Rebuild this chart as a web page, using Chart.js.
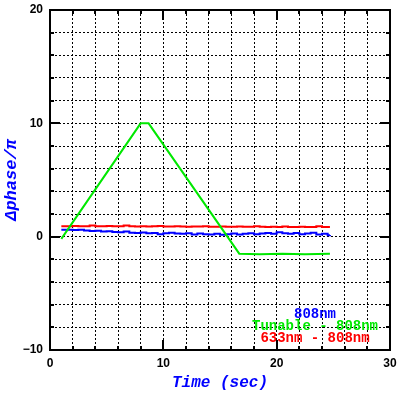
<!DOCTYPE html>
<html>
<head>
<meta charset="utf-8">
<script src="https://cdn.jsdelivr.net/npm/chart.js@4.4.0/dist/chart.umd.min.js"></script>
<style>
  html, body { margin: 0; padding: 0; background: #fff; }
  #wrap { width: 399px; height: 399px; }
</style>
</head>
<body>
<div id="wrap"><canvas id="chart" width="399" height="399"></canvas></div>
<script>
// values
const greenTime  = [1.0, 8.0, 8.7, 16.7, 18.5, 20.5, 22.5, 24.7];
const greenPhase = [-0.2, 10.0, 10.0, -1.5, -1.55, -1.5, -1.55, -1.5];

const sampleTime = [1.0, 1.5, 2.0, 2.5, 3.0, 3.5, 4.0, 4.5, 5.0, 5.5, 6.0, 6.5, 7.0, 7.5,
  8.0, 8.5, 9.0, 9.5, 10.0, 10.5, 11.0, 11.5, 12.0, 12.5, 13.0, 13.5, 14.0, 14.5, 15.0,
  15.5, 16.0, 16.5, 17.0, 17.5, 18.0, 18.5, 19.0, 19.5, 20.0, 20.5, 21.0, 21.5, 22.0,
  22.5, 23.0, 23.5, 24.0, 24.5, 24.7];

const bluePhase = [0.62, 0.6, 0.58, 0.6, 0.55, 0.5, 0.52, 0.45, 0.48, 0.42, 0.38, 0.45,
  0.35, 0.33, 0.36, 0.3, 0.32, 0.22, 0.3, 0.35, 0.28, 0.25, 0.3, 0.2, 0.28, 0.22, 0.2,
  0.26, 0.18, 0.22, 0.28, 0.2, 0.25, 0.3, 0.22, 0.28, 0.32, 0.25, 0.38, 0.3, 0.25, 0.32,
  0.22, 0.28, 0.35, 0.2, 0.25, 0.12, 0.15];

const redPhase = [0.92, 0.92, 0.95, 0.92, 0.92, 0.98, 0.92, 0.92, 0.95, 0.92, 0.92, 0.98,
  0.92, 0.9, 0.92, 0.9, 0.92, 0.95, 0.9, 0.9, 0.92, 0.9, 0.88, 0.9, 0.9, 0.92, 0.88,
  0.88, 0.9, 0.88, 0.88, 0.9, 0.88, 0.88, 0.92, 0.88, 0.86, 0.88, 0.86, 0.9, 0.86, 0.86,
  0.88, 0.86, 0.85, 0.92, 0.85, 0.85, 0.85];

const legendLines  = ['808nm', 'Tunable - 808nm', '633nm - 808nm'];
const legendColors = ['#0000ff', '#00e800', '#ff0000'];

const xTickLabels = [0, 10, 20, 30];
const yTickLabels = [-10, 0, 10, 20];

function toPoints(xs, ys) {
  return xs.map((x, i) => ({ x: x, y: ys[i] }));
}

// keep the plot box fixed: drop the extra room chart.js adds for edge labels
function noEdgePadding(s) {
  s.paddingLeft = 0; s.paddingRight = 0;
  s.paddingTop = 0; s.paddingBottom = 0;
}

// inward tick marks on all four sides
const inwardTicks = {
  id: 'inwardTicks',
  afterDraw(chart) {
    const ctx = chart.ctx;
    const a = chart.chartArea;
    const sx = chart.scales.x, sy = chart.scales.y;
    ctx.save();
    ctx.strokeStyle = '#000';
    ctx.lineWidth = 2;
    for (let v = sx.min; v <= sx.max; v += 2) {
      const px = Math.round(sx.getPixelForValue(v));
      const len = (v % 10 === 0) ? 10 : 4;
      ctx.beginPath();
      ctx.moveTo(px, a.bottom); ctx.lineTo(px, a.bottom - len);
      ctx.moveTo(px, a.top); ctx.lineTo(px, a.top + len);
      ctx.stroke();
    }
    for (let v = sy.min; v <= sy.max; v += 2) {
      const py = Math.round(sy.getPixelForValue(v));
      const len = (v % 10 === 0) ? 10 : 4;
      ctx.beginPath();
      ctx.moveTo(a.left, py); ctx.lineTo(a.left + len, py);
      ctx.moveTo(a.right, py); ctx.lineTo(a.right - len, py);
      ctx.stroke();
    }
    ctx.restore();
  }
};

// text legend in the lower right corner
const textLegend = {
  id: 'textLegend',
  afterDraw(chart) {
    const ctx = chart.ctx;
    ctx.save();
    ctx.font = 'bold 14px "Liberation Mono"';
    ctx.textAlign = 'center';
    ctx.textBaseline = 'middle';
    legendLines.forEach((t, i) => {
      ctx.fillStyle = legendColors[i];
      ctx.fillText(t, 315, 314 + i * 12);
    });
    ctx.restore();
  }
};

const tickFont = { family: '"Liberation Sans"', size: 12, weight: 'bold' };
const titleFont = { family: '"Liberation Mono"', size: 16, style: 'italic', weight: 'bold' };

new Chart(document.getElementById('chart'), {
  type: 'scatter',
  data: {
    datasets: [
      {
        label: 'Tunable - 808nm',
        data: toPoints(greenTime, greenPhase),
        showLine: true, borderColor: '#00e800', borderWidth: 2,
        pointRadius: 0, tension: 0
      },
      {
        label: '633nm - 808nm',
        data: toPoints(sampleTime, redPhase),
        showLine: true, borderColor: '#ff0000', borderWidth: 2,
        pointRadius: 0, tension: 0, stepped: true
      },
      {
        label: '808nm',
        data: toPoints(sampleTime, bluePhase),
        showLine: true, borderColor: '#0000ff', borderWidth: 2,
        pointRadius: 0, tension: 0, stepped: true
      }
    ]
  },
  options: {
    responsive: false,
    animation: false,
    layout: { padding: { top: 10, right: 9, left: 0, bottom: 0 } },
    plugins: { legend: { display: false }, tooltip: { enabled: false } },
    scales: {
      x: {
        type: 'linear', position: 'bottom', min: 0, max: 30,
        afterFit(s) { s.height = 49; noEdgePadding(s); },
        ticks: {
          stepSize: 2, autoSkip: false, maxRotation: 0, padding: 6,
          color: '#000', font: tickFont,
          callback: v => xTickLabels.includes(v) ? String(v) : ''
        },
        grid: { color: '#000', lineWidth: 1, drawTicks: false },
        border: { display: true, color: '#000', width: 2, dash: [2, 2] },
        title: {
          display: true, text: 'Time (sec)', color: '#0000ff',
          font: titleFont, padding: { top: 0, bottom: 6 }
        }
      },
      y: {
        type: 'linear', position: 'left', min: -10, max: 20,
        afterFit(s) { s.width = 50; noEdgePadding(s); },
        ticks: {
          stepSize: 2, autoSkip: false, padding: 7,
          color: '#000', font: tickFont,
          callback: v => yTickLabels.includes(v) ? (v < 0 ? '\u2212' + Math.abs(v) : String(v)) : ''
        },
        grid: { color: '#000', lineWidth: 1, drawTicks: false },
        border: { display: true, color: '#000', width: 2, dash: [2, 2] },
        title: {
          display: true, text: '\u0394phase/\u03c0', color: '#0000ff',
          font: { family: '"Liberation Mono"', size: 17, style: 'italic', weight: 'bold' },
          padding: { top: 2, bottom: 0 }
        }
      },
      x2: {
        type: 'linear', position: 'top', min: 0, max: 30,
        afterFit(s) { s.height = 0; noEdgePadding(s); },
        ticks: { display: false },
        grid: { drawOnChartArea: false, drawTicks: false },
        border: { display: true, color: '#000', width: 2 }
      },
      y2: {
        type: 'linear', position: 'right', min: -10, max: 20,
        afterFit(s) { s.width = 0; noEdgePadding(s); },
        ticks: { display: false },
        grid: { drawOnChartArea: false, drawTicks: false },
        border: { display: true, color: '#000', width: 2 }
      }
    }
  },
  plugins: [inwardTicks, textLegend]
});
</script>
</body>
</html>
